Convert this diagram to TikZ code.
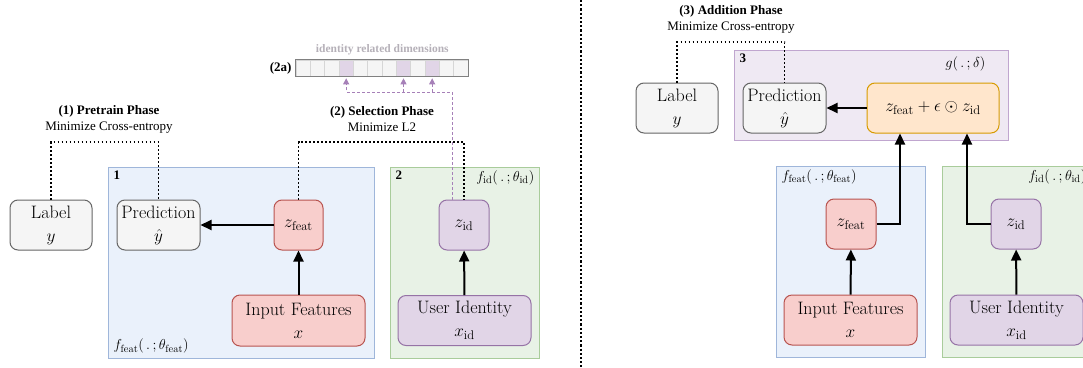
\documentclass[tikz,border=0pt]{standalone}
\usepackage{fontspec}
\newfontfamily\phasefont{Liberation Serif}
\usetikzlibrary{arrows.meta}

\definecolor{greyfill}{HTML}{F5F5F5}
\definecolor{greyline}{HTML}{666666}
\definecolor{redfill}{HTML}{F8CECC}
\definecolor{redline}{HTML}{B85450}
\definecolor{violetfill}{HTML}{E1D5E7}
\definecolor{violetline}{HTML}{9673A6}
\definecolor{orangefill}{HTML}{FFE6CC}
\definecolor{orangeline}{HTML}{D79B00}
\definecolor{bluepanel}{HTML}{EAF1FB}
\definecolor{bluepanelline}{HTML}{9FB6DA}
\definecolor{greenpanel}{HTML}{E8F2E6}
\definecolor{greenpanelline}{HTML}{A9CC9B}
\definecolor{violetpanel}{HTML}{EFE9F3}
\definecolor{violetpanelline}{HTML}{C0A6CF}
\definecolor{violetdash}{HTML}{A680B8}
\definecolor{celline}{HTML}{D6D6D6}
\definecolor{dimtext}{HTML}{B5B0B8}

\tikzset{
  panel/.style={draw,line width=1pt,inner sep=0pt},
  box/.style={draw,rounded corners=8pt,line width=1pt,align=center,inner sep=0pt,
    font=\fontsize{18}{23}\selectfont},
  greybox/.style={box,fill=greyfill,draw=greyline,minimum width=82pt,minimum height=50pt},
  redbox/.style={box,fill=redfill,draw=redline},
  violetbox/.style={box,fill=violetfill,draw=violetline},
  flow/.style={line width=2pt,-{Triangle[length=11pt,width=10pt]}},
  lossline/.style={line width=1.6pt,dash pattern=on 1.6pt off 2.4pt},
  selline/.style={violetdash,line width=1pt,dash pattern=on 3pt off 2pt},
  selarrow/.style={selline,-{Triangle[length=6pt,width=6pt]},shorten >=2pt},
  phase/.style={align=center,font=\phasefont\fontsize{13}{16}\selectfont},
  tag/.style={font=\phasefont\bfseries\fontsize{13}{15}\selectfont,inner sep=1pt},
  fname/.style={font=\fontsize{15}{18}\selectfont,inner sep=1pt},
  cell/.style={draw=celline,fill=greyfill,line width=0.6pt,minimum width=14.33pt,
    minimum height=16pt,inner sep=0pt},
}

\begin{document}
\begin{tikzpicture}[x=1pt,y=-1pt]
      \useasboundingbox (0,0) rectangle (1083,367);
      \clip (0,0) rectangle (1083,367);

      % panels
      \node[panel,fill=bluepanel,draw=bluepanelline,minimum width=266,minimum height=191]
            (box1) at (241,262.5) {};
      \node[panel,fill=greenpanel,draw=greenpanelline,minimum width=149,minimum height=191]
            (box2) at (464.5,262.5) {};
      \node[panel,fill=violetpanel,draw=violetpanelline,minimum width=274,minimum height=90]
            (box3) at (871,95) {};
      \node[panel,fill=bluepanel,draw=bluepanelline,minimum width=149,minimum height=191]
            (boxf) at (850.5,261.5) {};
      \node[panel,fill=greenpanel,draw=greenpanelline,minimum width=149,minimum height=191]
            (boxg) at (1016.5,261.5) {};

      \node[tag,anchor=north west] (tag1) at ([xshift=5pt,yshift=-3pt]box1.north west) {1};
      \node[tag,anchor=north west] (tag2) at ([xshift=5pt,yshift=-3pt]box2.north west) {2};
      \node[tag,anchor=north west] (tag3) at ([xshift=5pt,yshift=-3pt]box3.north west) {3};
      \node[fname,anchor=south west] (fn1) at ([xshift=5pt,yshift=4pt]box1.south west)
            {$f_{\mathrm{feat}}(\,.\,;\theta_{\mathrm{feat}})$};
      \node[fname,anchor=north east] (fn2) at ([xshift=-4pt,yshift=-3pt]box2.north east)
            {$f_{\mathrm{id}}(\,.\,;\theta_{\mathrm{id}})$};
      \node[fname,anchor=north east] (fn3) at ([xshift=-22pt,yshift=-6pt]box3.north east)
            {$g(\,.\,;\delta)$};
      \node[fname,anchor=north west] (fnf) at ([xshift=5pt,yshift=-3pt]boxf.north west)
            {$f_{\mathrm{feat}}(\,.\,;\theta_{\mathrm{feat}})$};
      \node[fname,anchor=north east] (fng) at ([xshift=-4pt,yshift=-3pt]boxg.north east)
            {$f_{\mathrm{id}}(\,.\,;\theta_{\mathrm{id}})$};

      % phase (1) and (2)
      \node[greybox] (lab1) at (51,225) {Label\\$y$};
      \node[greybox,minimum width=83] (pred1) at (158.5,225) {Prediction\\$\hat{y}$};
      \node[redbox,minimum width=49,minimum height=50] (zf1) at (298.5,225) {$z_{\mathrm{feat}}$};
      \node[redbox,minimum width=133,minimum height=51] (in1) at (298.5,320.5)
            {Input Features\\$x$};
      \node[violetbox,minimum width=50,minimum height=50] (zid2) at (464,225) {$z_{\mathrm{id}}$};
      \node[violetbox,minimum width=133,minimum height=50] (uid2) at (464.5,320.5)
            {User Identity\\$x_{\mathrm{id}}$};

      \node[phase] (ph1) at (109,119) {\textbf{(1) Pretrain Phase}\\Minimize Cross-entropy};
      \node[phase] (ph2) at (382,119) {\textbf{(2) Selection Phase}\\Minimize L2};

      \draw[flow] (zf1) -- (pred1);
      \draw[flow] (in1) -- (zf1);
      \draw[flow] (uid2) -- (zid2);

      \coordinate (top1) at (0,142);
      \draw[lossline] (lab1.north) -- (lab1.north |- top1) -| (pred1.north);
      \draw[lossline] (zf1.north) -- (zf1.north |- top1) -| (zid2.north);

      % (2a) dimension bar
      \foreach \i in {0,...,11}
            \node[cell] (cell\i) at ({303.17+14.333*\i},68) {};
      \foreach \i in {3,7,9}
            \node[cell,fill=violetfill] at (cell\i) {};
      \draw[gray,line width=0.8pt] (cell0.north west) rectangle (cell11.south east);
      \node[font=\phasefont\bfseries\fontsize{11.5}{14}\selectfont,text=dimtext,anchor=south]
            (dimtext) at ([yshift=1pt]cell5.north east) {identity related dimensions};
      \node[tag,anchor=east] (tag2a) at ([xshift=-3pt]cell0.west) {(2a)};

      \coordinate (seltop) at (0,92);
      \draw[selarrow] ([xshift=-12pt]zid2.north) -- ([xshift=-12pt]zid2.north |- seltop)
            -| (cell3.south);
      \draw[selarrow] (cell7.south |- seltop) -- (cell7.south);
      \draw[selarrow] (cell9.south |- seltop) -- (cell9.south);

      % separator
      \coordinate (sepA) at (581,0);
      \coordinate (sepB) at (581,367);
      \draw[line width=1.8pt,dash pattern=on 2.2pt off 2pt] (sepA) -- (sepB);

      % phase (3)
      \node[greybox] (lab3) at (677,108) {Label\\$y$};
      \node[greybox,minimum width=83] (pred3) at (784.5,108) {Prediction\\$\hat{y}$};
      \node[box,fill=orangefill,draw=orangeline,minimum width=132,minimum height=50]
            (sum3) at (933,108) {$z_{\mathrm{feat}}+\epsilon\odot z_{\mathrm{id}}$};
      \node[redbox,minimum width=50,minimum height=50] (zf3) at (851,224) {$z_{\mathrm{feat}}$};
      \node[redbox,minimum width=133,minimum height=50] (in3) at (850.5,320)
            {Input Features\\$x$};
      \node[violetbox,minimum width=50,minimum height=50] (zid3) at (1016,224) {$z_{\mathrm{id}}$};
      \node[violetbox,minimum width=133,minimum height=50] (uid3) at (1016.5,320)
            {User Identity\\$x_{\mathrm{id}}$};

      \node[phase] (ph3) at (731,19) {\textbf{(3) Addition Phase}\\Minimize Cross-entropy};

      \draw[flow] (sum3) -- (pred3);
      \draw[flow] (in3) -- (zf3);
      \draw[flow] (uid3) -- (zid3);
      \draw[flow] (zf3.east) -| ([xshift=-33pt]sum3.south);
      \draw[flow] (zid3.west) -| ([xshift=34pt]sum3.south);

      \coordinate (top3) at (0,42);
      \draw[lossline] (lab3.north) -- (lab3.north |- top3) -| (pred3.north);
\end{tikzpicture}
\end{document}
